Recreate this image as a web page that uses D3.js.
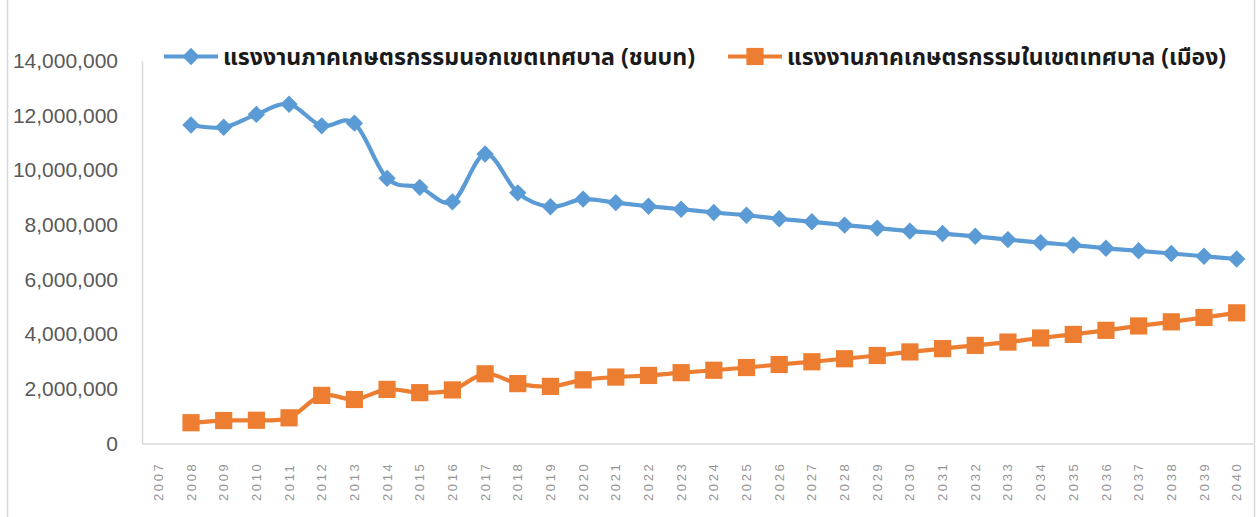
<!DOCTYPE html>
<html>
<head>
<meta charset="utf-8">
<script src="https://cdn.jsdelivr.net/npm/d3@7"></script>
<style>
  html, body { margin: 0; padding: 0; background: #ffffff; }
  svg { display: block; }
</style>
</head>
<body>
<svg id="chart" width="1257" height="517"></svg>
<script>
// Agricultural labour force, outside vs inside municipal areas
const years = ["2007","2008","2009","2010","2011","2012","2013","2014","2015","2016","2017",
  "2018","2019","2020","2021","2022","2023","2024","2025","2026","2027","2028","2029",
  "2030","2031","2032","2033","2034","2035","2036","2037","2038","2039","2040"];

const ruralName = "แรงงานภาคเกษตรกรรมนอกเขตเทศบาล (ชนบท)";
const urbanName = "แรงงานภาคเกษตรกรรมในเขตเทศบาล (เมือง)";

// outside municipal areas (rural)
const ruralValues = [null, 11650000, 11570000, 12040000, 12410000, 11620000, 11720000,
  9700000, 9370000, 8840000, 10590000, 9170000, 8660000, 8940000, 8810000, 8680000,
  8570000, 8450000, 8350000, 8220000, 8110000, 7990000, 7880000, 7770000, 7680000,
  7580000, 7460000, 7350000, 7260000, 7140000, 7050000, 6950000, 6850000, 6750000];

// inside municipal areas (urban)
const urbanValues = [null, 760000, 840000, 850000, 940000, 1760000, 1610000,
  1980000, 1860000, 1960000, 2550000, 2190000, 2090000, 2330000, 2430000, 2490000,
  2590000, 2680000, 2780000, 2890000, 2990000, 3100000, 3220000, 3350000, 3470000,
  3590000, 3710000, 3860000, 3990000, 4140000, 4300000, 4450000, 4610000, 4780000];

const yTicks = [0, 2000000, 4000000, 6000000, 8000000, 10000000, 12000000, 14000000];

const svg = d3.select("#chart");
const plotLeft = 142, plotRight = 1253, plotTop = 60.8, plotBottom = 443.5;

const x = d3.scaleBand().domain(years).range([plotLeft, plotRight]).paddingInner(0).paddingOuter(0);
const y = d3.scaleLinear().domain([0, 14000000]).range([plotBottom, plotTop]);
const cx = d => x(d) + x.bandwidth() / 2;

// chart frame edges
svg.append("line").attr("x1", 7.5).attr("x2", 7.5).attr("y1", 0).attr("y2", 517)
  .attr("stroke", "#d9d9d9").attr("stroke-width", 1.5);
svg.append("line").attr("x1", 1254.5).attr("x2", 1254.5).attr("y1", 0).attr("y2", 517)
  .attr("stroke", "#d9d9d9").attr("stroke-width", 1.5);

// y axis
const yAxis = svg.append("g").attr("transform", `translate(${plotLeft},0)`)
  .call(d3.axisLeft(y).tickValues(yTicks).tickSize(0).tickPadding(24)
    .tickFormat(d3.format(",")));
yAxis.select(".domain").attr("stroke", "#d9d9d9").attr("stroke-width", 1.5);
yAxis.selectAll("text")
  .attr("font-family", "'Liberation Sans', Arial, sans-serif")
  .attr("font-size", 21).attr("fill", "#595959");

// x axis
const xAxis = svg.append("g").attr("transform", `translate(0,${plotBottom})`)
  .call(d3.axisBottom(x).tickSize(0).tickPadding(0));
xAxis.select(".domain").attr("stroke", "#d9d9d9").attr("stroke-width", 1.5);
xAxis.selectAll("text")
  .attr("font-family", "'Liberation Sans', Arial, sans-serif")
  .attr("font-size", 13).attr("fill", "#959595")
  .attr("letter-spacing", "2.6px")
  .attr("text-anchor", "start")
  .attr("dy", "0.35em")
  .attr("transform", "translate(0,57.5) rotate(-90)")
  .attr("x", 0).attr("y", 0);

// series lines and markers
const line = d3.line()
  .defined(d => d.v != null)
  .x(d => cx(d.year))
  .y(d => y(d.v))
  .curve(d3.curveCatmullRom.alpha(0));

const series = [
  { name: ruralName, values: ruralValues, color: "#5B9BD5", marker: "diamond" },
  { name: urbanName, values: urbanValues, color: "#ED7D31", marker: "square" }
];

const diamond = s => `M0,${-s}L${s},0L0,${s}L${-s},0Z`;
const square = s => `M${-s},${-s}H${s}V${s}H${-s}Z`;

series.forEach(s => {
  const pts = years.map((yr, i) => ({ year: yr, v: s.values[i] }));
  svg.append("path").datum(pts)
    .attr("d", line)
    .attr("fill", "none").attr("stroke", s.color)
    .attr("stroke-width", 4.2).attr("stroke-linejoin", "round");
  svg.append("g").selectAll("path").data(pts.filter(d => d.v != null)).join("path")
    .attr("transform", d => `translate(${cx(d.year)},${y(d.v)})`)
    .attr("d", s.marker === "diamond" ? diamond(8.7) : square(8.6))
    .attr("fill", s.color);
});

// legend
const legendItems = [
  { s: series[0], x0: 164, x1: 218, tx: 223, w: 472 },
  { s: series[1], x0: 728, x1: 782, tx: 787, w: 439 }
];
const ly = 56.5;
legendItems.forEach(it => {
  const g = svg.append("g");
  g.append("line").attr("x1", it.x0).attr("x2", it.x1).attr("y1", ly).attr("y2", ly)
    .attr("stroke", it.s.color).attr("stroke-width", 4.2);
  g.append("path")
    .attr("transform", `translate(${(it.x0 + it.x1) / 2},${ly})`)
    .attr("d", it.s.marker === "diamond" ? diamond(8.7) : square(8.6))
    .attr("fill", it.s.color);
  g.append("text").attr("x", it.tx).attr("y", ly).attr("dy", "0.35em")
    .attr("font-family", "Tahoma, 'Leelawadee UI', 'Noto Sans Thai', 'Noto Sans', sans-serif")
    .attr("font-size", 23).attr("font-weight", "bold").attr("fill", "#1a1a1a")
    .attr("textLength", it.w).attr("lengthAdjust", "spacingAndGlyphs")
    .text(it.s.name);
});
</script>
</body>
</html>
